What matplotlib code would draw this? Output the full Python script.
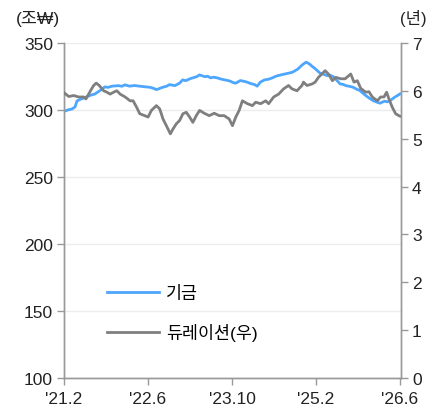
import matplotlib
matplotlib.use("Agg")
import matplotlib.pyplot as plt

plt.rcParams['font.family'] = ['Liberation Sans', 'Noto Sans CJK KR', 'DejaVu Sans']

# Months elapsed since Feb 2021
fund_months = [0, 0.76, 1.52, 2.09, 2.47, 3.04, 3.6, 4.37, 5.1, 5.89, 6.84, 7.79, 8.4, 9.1,
               10.4, 11.0, 11.6, 12.5, 13.4, 14.4, 15.3, 16.3, 17.0, 17.6, 18.2, 18.8, 19.5,
               20.1, 21.1, 22.0, 22.6, 23.2, 23.9, 24.6, 25.3, 25.8, 26.3, 26.8, 27.4, 27.9,
               28.5, 29.2, 29.9, 30.6, 31.1, 31.7, 32.2, 32.7, 33.6, 34.3, 34.9, 35.6, 36.3,
               36.8, 37.4, 38.2, 39.0, 39.7, 40.3, 40.8, 41.5, 42.2, 42.8, 43.5, 44.1, 44.6,
               45.0, 45.4, 46.1, 46.5, 46.9, 47.4, 47.9, 48.4, 48.8, 49.4, 50.1, 50.7, 51.3,
               52.0, 52.6, 53.2, 53.7, 54.4, 55.1, 55.8, 56.4, 57.0, 57.5, 58.2, 58.9, 59.6,
               60.2, 60.7, 61.1, 61.6, 62.1, 62.6, 63.0, 63.5, 64.0]
fund_value = [298.9, 300.0, 300.7, 302.2, 306.7, 307.8, 308.6, 309.9, 311.0, 311.9, 314.4, 317.2,
              316.8, 317.7, 318.1, 317.6, 318.7, 317.7, 318.2, 317.7, 317.3, 316.9, 316.2, 315.1,
              316.0, 316.9, 317.6, 318.9, 318.1, 319.9, 322.4, 321.8, 323.1, 324.0, 324.8, 326.1,
              325.5, 324.8, 325.1, 323.9, 324.4, 323.9, 323.0, 322.4, 322.0, 321.4, 320.4, 319.9,
              321.9, 321.3, 320.7, 319.6, 318.9, 317.7, 320.7, 322.4, 322.9, 323.9, 325.0, 325.6,
              326.3, 326.9, 327.4, 328.1, 329.4, 330.6, 332.2, 333.6, 335.6, 334.9, 333.8, 332.1,
              330.6, 328.8, 327.4, 326.7, 325.6, 325.9, 324.8, 322.0, 319.4, 319.0, 318.1, 317.6,
              316.9, 315.4, 314.4, 312.3, 310.7, 308.7, 306.9, 305.8, 305.0, 305.9, 306.5, 306.0,
              306.9, 308.3, 309.5, 310.6, 311.9]

dur_months = [0, 0.89, 1.84, 2.79, 3.74, 4.18, 4.69, 5.2, 5.64, 6.13, 6.7, 7.54, 8.17, 8.79, 9.44,
              10.06, 10.69, 11.64, 12.59, 13.16, 13.81, 14.43, 15.38, 16.01, 16.65, 17.6, 18.23,
              18.86, 19.5, 20.26, 20.75, 21.4, 22.03, 22.65, 23.3, 23.93, 24.55, 25.2, 25.83,
              26.72, 27.67, 28.62, 29.57, 30.52, 31.47, 32.09, 32.72, 33.37, 33.99, 34.94, 35.89,
              36.52, 37.47, 38.42, 38.99, 39.94, 40.89, 41.84, 42.78, 43.43, 44.38, 45.33, 45.63,
              46.28, 47.23, 47.85, 48.48, 49.13, 49.75, 50.38, 51.14, 51.78, 52.73, 53.55, 54.63,
              55.26, 55.89, 56.53, 57.48, 58.11, 58.74, 59.69, 60.33, 60.96, 61.47, 61.91, 62.53,
              63.18, 63.81, 64.0]
dur_value = [5.96, 5.88, 5.90, 5.87, 5.87, 5.83, 5.93, 6.03, 6.11, 6.16, 6.11, 6.00, 5.97, 5.93,
             5.97, 6.00, 5.93, 5.87, 5.79, 5.79, 5.66, 5.52, 5.48, 5.45, 5.59, 5.69, 5.62, 5.41,
             5.27, 5.10, 5.20, 5.31, 5.38, 5.52, 5.55, 5.45, 5.34, 5.48, 5.59, 5.53, 5.48, 5.53,
             5.48, 5.48, 5.41, 5.27, 5.45, 5.59, 5.79, 5.73, 5.69, 5.76, 5.73, 5.79, 5.73, 5.87,
             5.93, 6.04, 6.11, 6.04, 6.00, 6.11, 6.18, 6.11, 6.14, 6.18, 6.28, 6.35, 6.42, 6.35,
             6.21, 6.28, 6.25, 6.25, 6.35, 6.18, 6.21, 6.05, 5.97, 5.98, 5.87, 5.79, 5.87, 5.87,
             5.97, 5.83, 5.66, 5.52, 5.48, 5.47]

tick_months = [0, 16, 32, 48, 64]
tick_labels = ["'21.2", "'22.6", "'23.10", "'25.2", "'26.6"]

blue = '#4da6ff'
grey = '#7f7f7f'
axis_col = '#999999'

fig = plt.figure(figsize=(4.27, 4.14), dpi=100)
ax = fig.add_axes([0.150, 0.0845, 0.789, 0.8095])
ax2 = ax.twinx()

l1, = ax.plot(fund_months, fund_value, color=blue, lw=2.0, label='기금', zorder=3)
l2, = ax2.plot(dur_months, dur_value, color=grey, lw=2.0, label='듀레이션(우)', zorder=3)

ax.set_xlim(0, 64.2)
ax.set_ylim(100, 350)
ax2.set_ylim(0, 7)
ax.set_yticks([100, 150, 200, 250, 300, 350])
ax2.set_yticks(range(0, 8))
ax.set_xticks(tick_months)
ax.set_xticklabels(tick_labels)

ax.grid(axis='y', color='#ececec', lw=1.0)
ax.set_axisbelow(True)

for a in (ax, ax2):
    a.spines['top'].set_visible(False)
    for s in ('left', 'right', 'bottom'):
        a.spines[s].set_color(axis_col)
        a.spines[s].set_linewidth(1.0)
    a.tick_params(colors=axis_col, labelcolor='#222222', labelsize=12.5, length=5, width=1.0)

ax.tick_params(axis='x', pad=4)
ax.tick_params(axis='y', pad=3)
ax2.tick_params(axis='y', pad=3)

fig.text(0.038, 0.955, '(조₩)', fontsize=12.5, color='#222222', ha='left', va='center')
fig.text(0.937, 0.955, '(년)', fontsize=12, color='#222222', ha='left', va='center')

ax.legend(handles=[l1, l2], loc='lower left', bbox_to_anchor=(0.08, 0.065), frameon=False,
          fontsize=12.5, handlelength=3.0, handletextpad=0.4, labelspacing=1.25)

fig.savefig('out.png', dpi=100)
